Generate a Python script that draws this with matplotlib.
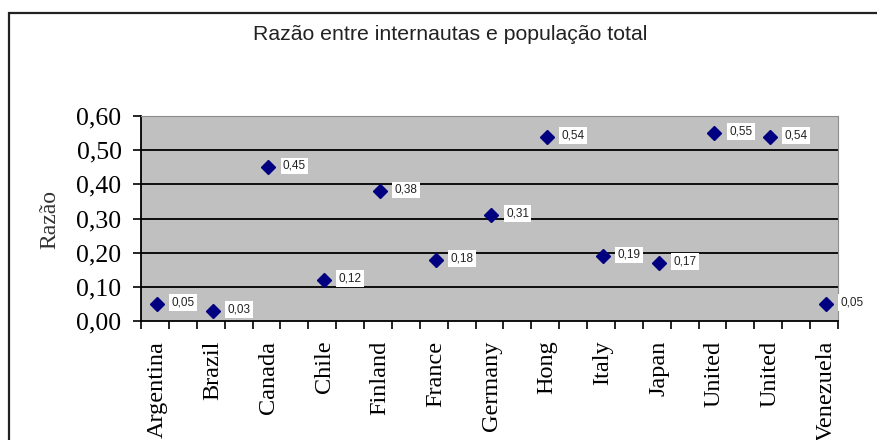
import numpy as np
import matplotlib
matplotlib.use("Agg")
import matplotlib.pyplot as plt
from matplotlib.patches import Rectangle

countries = ["Argentina", "Brazil", "Canada", "Chile", "Finland", "France",
             "Germany", "Hong", "Italy", "Japan", "United", "United", "Venezuela"]
ratios = [0.05, 0.03, 0.45, 0.12, 0.38, 0.18, 0.31, 0.54, 0.19, 0.17, 0.55, 0.54, 0.05]
y_ticks = [0.0, 0.1, 0.2, 0.3, 0.4, 0.5, 0.6]

W, H = 877, 440
fig = plt.figure(figsize=(W / 100, H / 100), dpi=100)
fig.patch.set_facecolor("white")

# outer chart frame
fig.patches.append(Rectangle((9 / W, -0.05), 1.2, (H - 13) / H + 0.05,
                             transform=fig.transFigure, fill=False,
                             edgecolor="#222222", linewidth=1.6))

ax = fig.add_axes([141 / W, 118.7 / H, 697 / W, 205.3 / H])
ax.set_facecolor("#c0c0c0")

x = np.arange(1, len(countries) + 1)
xmin, xmax = 0.715, 13.215
ax.set_xlim(xmin, xmax)
ax.set_ylim(0, 0.6)

for v in y_ticks[1:-1]:
    ax.axhline(v, color="black", lw=1.3, zorder=1)

ax.plot(x, ratios, linestyle="none", marker="D", markersize=7.5,
        color="#000080", zorder=3, clip_on=False)

for xi, v in zip(x, ratios):
    ax.annotate(f"{v:.2f}".replace(".", ","), (xi, v), xytext=(10.5, 1),
                textcoords="offset points", ha="left", va="center",
                fontsize=8.5, family="Liberation Sans", color="#222222",
                bbox=dict(boxstyle="square,pad=0.2", fc="white", ec="none"),
                zorder=4, annotation_clip=False)

# axes styling
ax.spines["left"].set_color("black")
ax.spines["bottom"].set_color("black")
ax.spines["left"].set_linewidth(1.3)
ax.spines["bottom"].set_linewidth(1.3)
ax.spines["top"].set_color("#8c8c8c")
ax.spines["right"].set_color("#8c8c8c")

ax.set_yticks(y_ticks)
ax.set_yticklabels([f"{v:.2f}".replace(".", ",") for v in y_ticks],
                   family="Liberation Serif", fontsize=18.5)
ax.tick_params(axis="y", direction="out", length=6, width=1.2, pad=8)

ax.set_xticks(x)
ax.set_xticklabels(countries, rotation=90, family="Liberation Serif",
                   fontsize=17.5, va="top")
ax.tick_params(axis="x", which="major", length=0, pad=14)
ax.set_xticks(np.arange(xmin, xmax + 0.01, 0.5), minor=True)
ax.tick_params(axis="x", which="minor", direction="out", length=6, width=1.2)

fig.text(50 / W, 1 - 219 / H, "Razão", rotation=90, ha="center", va="center",
         family="Liberation Serif", fontsize=17, color="#333333")
fig.text(450 / W, 1 - 35 / H, "Razão entre internautas e população total",
         ha="center", va="center", family="Liberation Sans", fontsize=15.3,
         color="#222222")

fig.savefig("out.png", dpi=100)
